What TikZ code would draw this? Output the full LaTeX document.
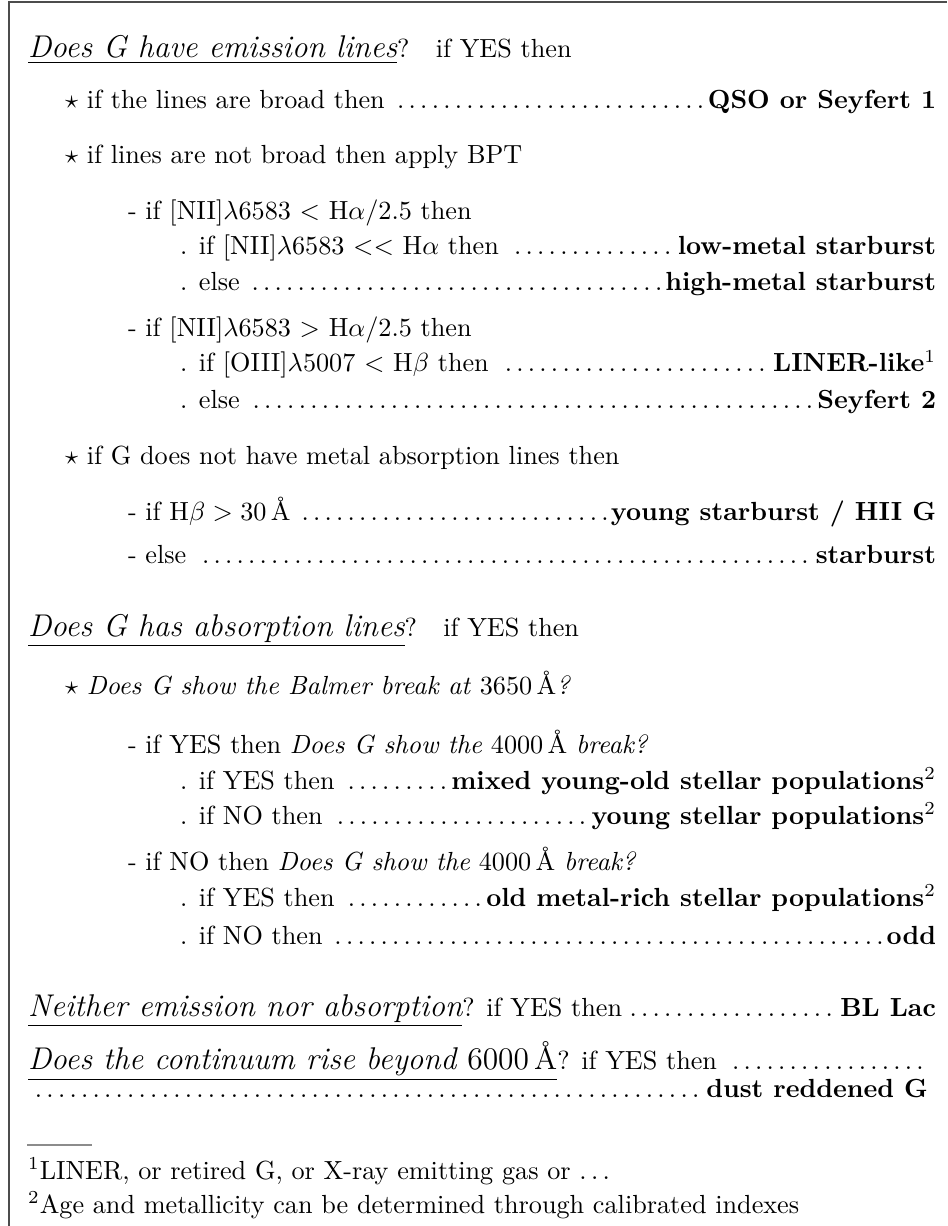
\documentclass[tikz,border=0pt]{standalone}
\usepackage{amsmath}
\usepackage{amssymb}
\usepackage{xcolor}
\usepackage{tikz}

% a row that ends on the right margin, dots in between
\newcommand{\dotrow}[3]{\hbox to #1{#2\dotfill#3}}

\begin{document}
\begin{tikzpicture}[x=0.3817pt, y=-0.3817pt, every node/.style={anchor=base west, inner sep=0pt, outer sep=0pt}, frame/.style={draw=black!70, line width=0.6pt}, footrule/.style={draw=black!45, line width=0.5pt}]
  \useasboundingbox (0,0) rectangle (947,1226);
  \draw[frame] (9,1226) -- (9,2) -- (947,2);

  % emission lines
  \node (emis) at (28,58) {\underline{\large\itshape Does G have emission lines}?\quad if YES then};
  \node (broad) at (65,109) {\dotrow{332.5pt}{$\star$ if the lines are broad then }{\textbf{QSO or Seyfert 1}}};
  \node (bpt) at (65,164) {$\star$ if lines are not broad then apply BPT};
  \node (niilow) at (128,220) {- if [NII]$\lambda$6583 $<$ H$\alpha$/2.5 then};
  \node (lowmet) at (180,255) {\dotrow{288.6pt}{. if [NII]$\lambda$6583 $<<$ H$\alpha$ then }{\textbf{low-metal starburst}}};
  \node (highmet) at (180,291) {\dotrow{288.6pt}{. else }{\textbf{high-metal starburst}}};
  \node (niihigh) at (128,337) {- if [NII]$\lambda$6583 $>$ H$\alpha$/2.5 then};
  \node (liner) at (180,372) {\dotrow{288.6pt}{. if [OIII]$\lambda$5007 $<$ H$\beta$ then }{\textbf{LINER-like}$^1$}};
  \node (sey) at (180,409) {\dotrow{288.6pt}{. else }{\textbf{Seyfert 2}}};
  \node (nometal) at (65,464) {$\star$ if G does not have metal absorption lines then};
  \node (hii) at (128,520) {\dotrow{308.4pt}{- if H$\beta > 30\,$\AA\ }{\textbf{young starburst / HII G}}};
  \node (sb) at (128,563) {\dotrow{308.4pt}{- else }{\textbf{starburst}}};

  % absorption lines
  \node (abs) at (28,636) {\underline{\large\itshape Does G has absorption lines}?\quad if YES then};
  \node (balmer) at (65,694) {$\star$ \emph{Does G show the Balmer break at} 3650\,\AA\emph{?}};
  \node (byes) at (128,753) {- if YES then \emph{Does G show the} 4000\,\AA\ \emph{break?}};
  \node (mixed) at (180,789) {\dotrow{288.6pt}{. if YES then }{\textbf{mixed young-old stellar populations}$^2$}};
  \node (young) at (180,824) {\dotrow{288.6pt}{. if NO then }{\textbf{young stellar populations}$^2$}};
  \node (bno) at (128,870) {- if NO then \emph{Does G show the} 4000\,\AA\ \emph{break?}};
  \node (old) at (180,906) {\dotrow{288.6pt}{. if YES then }{\textbf{old metal-rich stellar populations}$^2$}};
  \node (odd) at (180,944) {\dotrow{288.6pt}{. if NO then }{\textbf{odd}}};

  % the rest
  \node (bllac) at (28,1016) {\dotrow{346.6pt}{\underline{\large\itshape Neither emission nor absorption}? if YES then}{\textbf{BL Lac}}};
  \node (redq) at (28,1069) {\dotrow{344.3pt}{\underline{\large\itshape Does the continuum rise beyond \upshape 6000\,\AA}? if YES then }{}};
  \node (red) at (28,1097) {\dotrow{343.5pt}{}{\textbf{dust reddened G}}};

  % footnotes
  \draw[footrule] (27,1145) -- (92,1145);
  \node (fna) at (28,1179) {$^1$LINER, or retired G, or X-ray emitting gas or $\ldots$};
  \node (fnb) at (28,1213) {$^2$Age and metallicity can be determined through calibrated indexes};
\end{tikzpicture}
\end{document}
